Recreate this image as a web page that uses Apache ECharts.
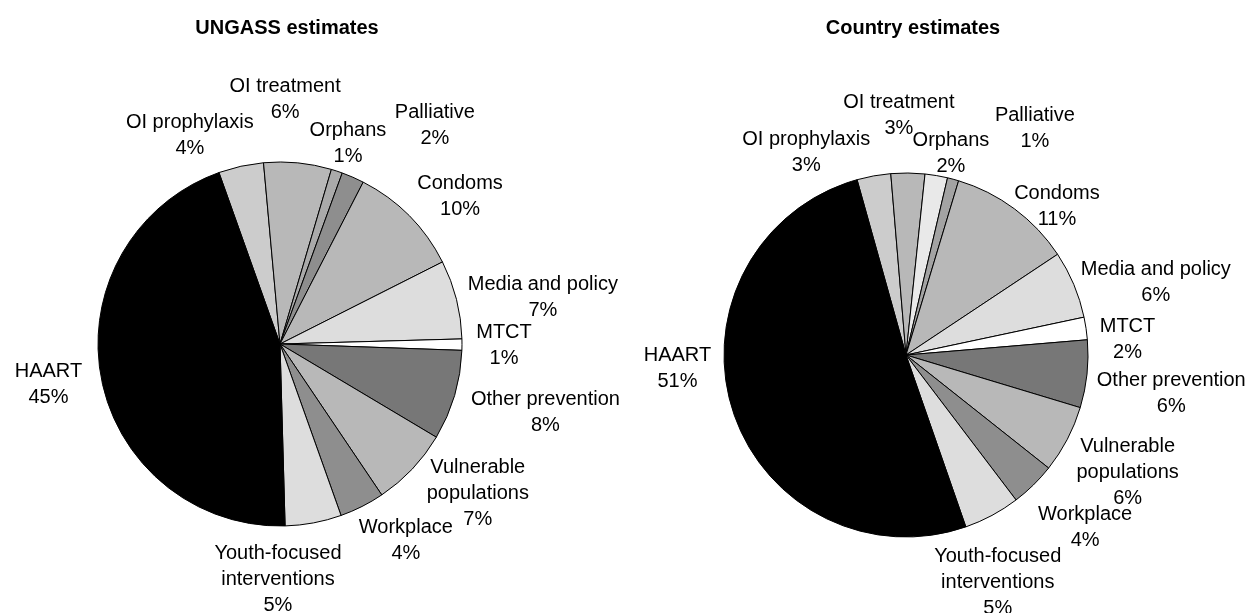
<!DOCTYPE html>
<html>
<head>
<meta charset="utf-8">
<title>HIV/AIDS spending by intervention</title>
<script src="https://cdn.jsdelivr.net/npm/echarts@6/dist/echarts.min.js"></script>
<style>
  html, body { margin: 0; padding: 0; background: #fff; }
  #chart { width: 1256px; height: 613px; }
</style>
</head>
<body>
<div id="chart"></div>
<script>
// Intervention categories, listed clockwise from the slice after HAART
const categories = [
  'OI prophylaxis', 'OI treatment', 'Orphans', 'Palliative', 'Condoms',
  'Media and policy', 'MTCT', 'Other prevention', 'Vulnerable populations',
  'Workplace', 'Youth-focused interventions', 'HAART'
];

// Share of spending (%) per category
const ungassShares  = [4, 6, 1, 2, 10, 7, 1, 8, 7, 4, 5, 45];
const countryShares = [3, 3, 2, 1, 11, 6, 2, 6, 6, 4, 5, 51];

const panelTitles = ['UNGASS estimates', 'Country estimates'];

// Grey shades for each slice
const ungassShades = ['#cccccc', '#b8b8b8', '#aaaaaa', '#8e8e8e', '#b8b8b8', '#dddddd',
                      '#ffffff', '#777777', '#b8b8b8', '#8e8e8e', '#dddddd', '#000000'];
const countryShades = ['#cccccc', '#b8b8b8', '#e9e9e9', '#a3a3a3', '#b8b8b8', '#dddddd',
                       '#ffffff', '#777777', '#b8b8b8', '#8e8e8e', '#dddddd', '#000000'];

// Where each slice label sits: [degrees clockwise from 12 o'clock, px from pie centre]
const ungassLabelSpots = [[-23.4, 227], [1.2, 245], [18.7, 212], [35.3, 268], [50.6, 233], [79.9, 267],
                          [90.3, 224], [104.4, 274], [127.1, 248], [147.3, 233], [180.5, 235], [260.2, 235]];
const countryLabelSpots = [[-26.2, 226], [-1.7, 240], [12.6, 206], [29.6, 261], [45.4, 212], [73.9, 260],
                           [86.1, 222], [98.2, 268], [118.0, 251], [134.0, 249], [158.0, 245], [266.5, 229]];

const FONT = '"Liberation Sans", Arial, Helvetica, sans-serif';

function labelText(p) {
  const name = p.name.replace(/^(Vulnerable|Youth-focused) /, '$1\n');
  return name + '\n' + p.value + '%';
}

function pieSeries(shares, shades, spots, centre, radius, startAngle) {
  return {
    type: 'pie',
    center: centre,
    radius: radius,
    startAngle: startAngle,
    clockwise: true,
    avoidLabelOverlap: false,
    animation: false,
    silent: true,
    itemStyle: { borderColor: '#000', borderWidth: 1 },
    label: {
      show: true,
      position: 'outside',
      formatter: labelText,
      fontFamily: FONT,
      fontSize: 20,
      lineHeight: 26,
      color: '#000',
      align: 'center'
    },
    labelLine: { show: false },
    labelLayout: function (params) {
      const s = spots[params.dataIndex];
      const a = s[0] * Math.PI / 180;
      return {
        x: centre[0] + s[1] * Math.sin(a),
        y: centre[1] - s[1] * Math.cos(a),
        align: 'center',
        verticalAlign: 'middle'
      };
    },
    emphasis: { disabled: true },
    data: categories.map((name, i) => ({
      name: name,
      value: shares[i],
      itemStyle: { color: shades[i] }
    }))
  };
}

const chart = echarts.init(document.getElementById('chart'), null, { renderer: 'canvas' });

const titleStyle = { fontFamily: FONT, fontSize: 20, fontWeight: 'bold', color: '#000' };

chart.setOption({
  backgroundColor: '#ffffff',
  animation: false,
  title: [
    { text: panelTitles[0], left: 282, top: 13, textAlign: 'center', textStyle: titleStyle },
    { text: panelTitles[1], left: 908, top: 13, textAlign: 'center', textStyle: titleStyle }
  ],
  series: [
    pieSeries(ungassShares, ungassShades, ungassLabelSpots, [280, 344], 182, 109.6),
    pieSeries(countryShares, countryShades, countryLabelSpots, [906, 355], 182, 105.6)
  ]
});
</script>
</body>
</html>
